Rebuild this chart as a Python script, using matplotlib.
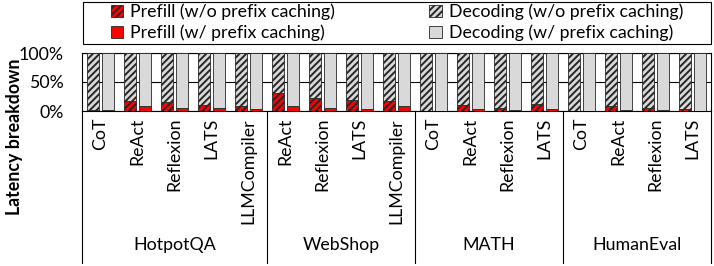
import matplotlib
matplotlib.use('Agg')
import matplotlib.pyplot as plt
import numpy as np
from matplotlib.patches import Patch, Rectangle
from matplotlib.transforms import blended_transform_factory

# Datasets and the agent methods evaluated on each
datasets = ['HotpotQA', 'WebShop', 'MATH', 'HumanEval']
group_sizes = [5, 4, 4, 4]
methods = ['CoT', 'ReAct', 'Reflexion', 'LATS', 'LLMCompiler',
           'ReAct', 'Reflexion', 'LATS', 'LLMCompiler',
           'CoT', 'ReAct', 'Reflexion', 'LATS',
           'CoT', 'ReAct', 'Reflexion', 'LATS']

# Latency breakdown (%)
prefill_wo = [1, 17, 16, 11, 8,
              31, 22, 19, 18,
              0.5, 11, 5, 11.5,
              0.5, 9, 5, 3]
decode_wo = [99, 83, 84, 89, 92,
             69, 78, 81, 82,
             99.5, 89, 95, 88.5,
             99.5, 91, 95, 97]
prefill_w = [1, 8, 5, 5, 3.5,
             9, 6, 4, 8,
             0.5, 3.5, 1, 4,
             0.5, 2, 1.5, 0.5]
decode_w = [99, 92, 95, 95, 96.5,
            91, 94, 96, 92,
            99.5, 96.5, 99, 96,
            99.5, 98, 98.5, 99.5]

W, H = 714, 266
plt.rcParams['font.family'] = ['Lato', 'DejaVu Sans']
plt.rcParams['font.size'] = 12.8
plt.rcParams['hatch.linewidth'] = 1.4

RED = '#FF0000'
GRAY = '#D9D9D9'
HGRAY = '#D9D9D9'
EDGE = '#262626'
HATCH = '/////'

fig = plt.figure(figsize=(W / 100, H / 100), dpi=100)
ax = fig.add_axes([82 / W, 1 - 111 / H, 629 / W, 58 / H])

x = np.arange(len(methods))
w = 0.32
off = 0.2
ax.bar(x - off, prefill_wo, w, color=RED, edgecolor=EDGE, hatch=HATCH, lw=0.6, zorder=3)
ax.bar(x - off, decode_wo, w, bottom=prefill_wo, color=HGRAY, edgecolor=EDGE,
       hatch=HATCH, lw=0.6, zorder=3)
ax.bar(x + off, prefill_w, w, color=RED, edgecolor=EDGE, lw=0.6, zorder=3)
ax.bar(x + off, decode_w, w, bottom=prefill_w, color=GRAY, edgecolor=EDGE, lw=0.6, zorder=3)

ax.set_xlim(-0.5, len(methods) - 0.5)
ax.set_ylim(0, 100)
ax.set_yticks([0, 50, 100])
ax.set_yticklabels(['0%', '50%', '100%'])
ax.set_xticks(x)
ax.set_xticklabels(methods, rotation=90, va='top')
ax.tick_params(axis='y', length=0, pad=13)
ax.tick_params(axis='x', length=0, pad=5)
ax.grid(axis='y', color='black', lw=0.8, zorder=0)
ax.set_axisbelow(True)
for s in ax.spines.values():
    s.set_linewidth(0.8)

# group separators below the axis and dataset names
trans = blended_transform_factory(ax.transData, ax.transAxes)
edges = np.concatenate([[0], np.cumsum(group_sizes)]) - 0.5
for e in edges:
    ax.plot([e, e], [0, -2.62], transform=trans, color='black', lw=0.8, clip_on=False)
for name, a, b in zip(datasets, edges[:-1], edges[1:]):
    ax.text((a + b) / 2, -2.31, name, transform=trans, ha='center', va='center')

fig.text(15 / W, 1 - 137 / H, 'Latency breakdown', rotation=90, ha='center',
         va='center', fontweight='bold')

handles = [Patch(facecolor=RED, edgecolor=EDGE, hatch=HATCH, lw=0.6),
           Patch(facecolor=RED, edgecolor=EDGE, lw=0.6),
           Patch(facecolor=HGRAY, edgecolor=EDGE, hatch=HATCH, lw=0.6),
           Patch(facecolor=GRAY, edgecolor=EDGE, lw=0.6)]
labels = ['Prefill (w/o prefix caching)', 'Prefill (w/ prefix caching)',
          'Decoding (w/o prefix caching)', 'Decoding (w/ prefix caching)']
fig.legend(handles, labels, ncol=2, loc='center', bbox_to_anchor=(397 / W, 1 - 22.6 / H),
           frameon=False, columnspacing=5.3, handlelength=0.7, handleheight=0.7,
           handletextpad=0.4, labelspacing=0.25, borderpad=0)
fig.patches.append(Rectangle((83 / W, 1 - 43.5 / H), 628 / W, 41.8 / H,
                             transform=fig.transFigure, fill=False,
                             edgecolor='black', lw=0.8))

fig.savefig('out.png', dpi=100)
